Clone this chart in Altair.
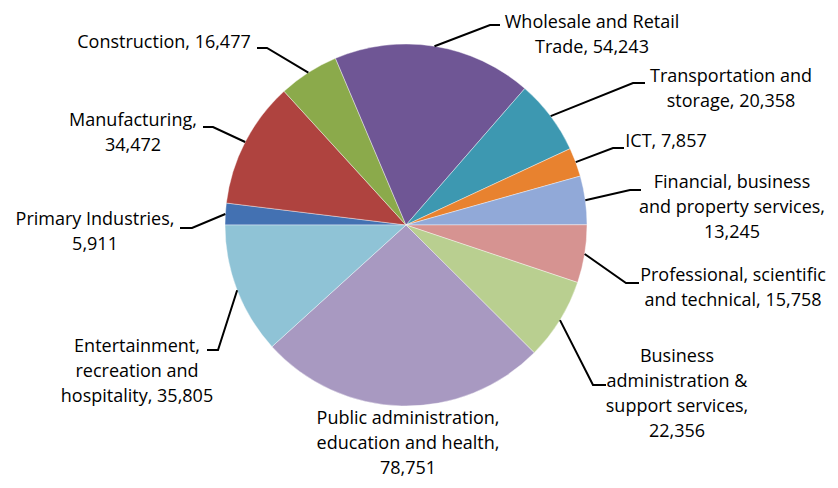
import math
import pandas as pd
import altair as alt

# ---------------- data ----------------
categories = [
    "Primary Industries",
    "Manufacturing",
    "Construction",
    "Wholesale and Retail Trade",
    "Transportation and storage",
    "ICT",
    "Financial, business and property services",
    "Professional, scientific and technical",
    "Business administration & support services",
    "Public administration, education and health",
    "Entertainment, recreation and hospitality",
]
values = [5911, 34472, 16477, 54243, 20358, 7857, 13245, 15758, 22356, 78751, 35805]

label_text = [
    "Primary Industries,\n5,911",
    "Manufacturing,\n34,472",
    "Construction, 16,477",
    "Wholesale and Retail\nTrade, 54,243",
    "Transportation and\nstorage, 20,358",
    "ICT, 7,857",
    "Financial, business\nand property services,\n13,245",
    "Professional, scientific\nand technical, 15,758",
    "Business\nadministration &\nsupport services,\n22,356",
    "Public administration,\neducation and health,\n78,751",
    "Entertainment,\nrecreation and\nhospitality, 35,805",
]

# ---------------- styles / layout ----------------
colors = ["#4371B2", "#AF433F", "#8BAA4B", "#6F5695", "#3D98B1", "#E8822F",
          "#91A9D8", "#D69391", "#B9CF90", "#A899C1", "#8FC3D6"]

R = 181                    # pie radius (px)
START_DEG = 270            # first slice starts at 9 o'clock
W, H = 822, 472
CX, CY = 398, 217          # pie centre inside the view
FONT = "Open Sans"
FONT_SIZE = 18
LINE_H = 25

# label block centre offsets from pie centre (px, y down)
label_off = [(-311, 7), (-273, -92), (-242, -182), (186, -190), (325, -136),
             (260, -83), (326, -17), (327, 63), (271, 169), (2, 219), (-269, 147)]
# leader elbow and end offsets (None = no leader)
leader_off = [((-214, 3), (-226, 3)), ((-193, -98), (-203, -98)),
              ((-139, -177), (-149, -177)), ((84, -200), (94, -200)),
              ((227, -142), (239, -142)), ((207, -77), (218, -77)),
              ((224, -35), (235, -35)), ((220, 58), (233, 58)),
              ((187, 160), (200, 160)), None, ((-188, 125), (-199, 125))]

# ---------------- derived tables ----------------
total = float(sum(values))
pie_df = pd.DataFrame({"category": categories, "value": values,
                       "idx": list(range(len(values)))})

lab_rows, lead_rows = [], []
cum = 0.0
for i, (c, v) in enumerate(zip(categories, values)):
    mid = math.radians(START_DEG + 360.0 * (cum + v / 2.0) / total)
    cum += v
    ex, ey = R * math.sin(mid), -R * math.cos(mid)
    n_lines = label_text[i].count("\n") + 1
    lab_rows.append({"category": c, "text": label_text[i],
                     "x": label_off[i][0],
                     "y": label_off[i][1] - (n_lines - 1) * LINE_H / 2.0})
    if leader_off[i] is not None:
        (bx, by), (tx, ty) = leader_off[i]
        for s, (px, py) in enumerate([(ex, ey), (bx, by), (tx, ty)]):
            lead_rows.append({"category": c, "seq": s, "x": px, "y": py})

lab_df = pd.DataFrame(lab_rows)
lead_df = pd.DataFrame(lead_rows)

xs = alt.Scale(domain=[-CX, W - CX])
ys = alt.Scale(domain=[-CY, H - CY], reverse=True)

pie = alt.Chart(pie_df).mark_arc(outerRadius=R, stroke="#ffffff", strokeWidth=0.4).encode(
    theta=alt.Theta("value:Q", stack=True,
                    scale=alt.Scale(range=[math.radians(START_DEG),
                                           math.radians(START_DEG + 360)])),
    order=alt.Order("idx:Q"),
    color=alt.Color("category:N", scale=alt.Scale(domain=categories, range=colors),
                    legend=None),
    x=alt.X(datum=0, scale=xs, axis=None),
    y=alt.Y(datum=0, scale=ys, axis=None),
)

leaders = alt.Chart(lead_df).mark_line(color="black", strokeWidth=2).encode(
    x=alt.X("x:Q", scale=xs, axis=None),
    y=alt.Y("y:Q", scale=ys, axis=None),
    detail="category:N",
    order="seq:Q",
)

labels = alt.Chart(lab_df).mark_text(
    font=FONT, fontSize=FONT_SIZE, lineBreak="\n", lineHeight=LINE_H,
    align="center", baseline="middle", color="black",
).encode(
    x=alt.X("x:Q", scale=xs, axis=None),
    y=alt.Y("y:Q", scale=ys, axis=None),
    text="text:N",
)

chart = alt.layer(pie, leaders, labels).properties(
    width=W, height=H, autosize="none", padding=0
).configure_view(stroke=None)

chart.save("out.html", embed_options={"renderer": "svg", "actions": False})
